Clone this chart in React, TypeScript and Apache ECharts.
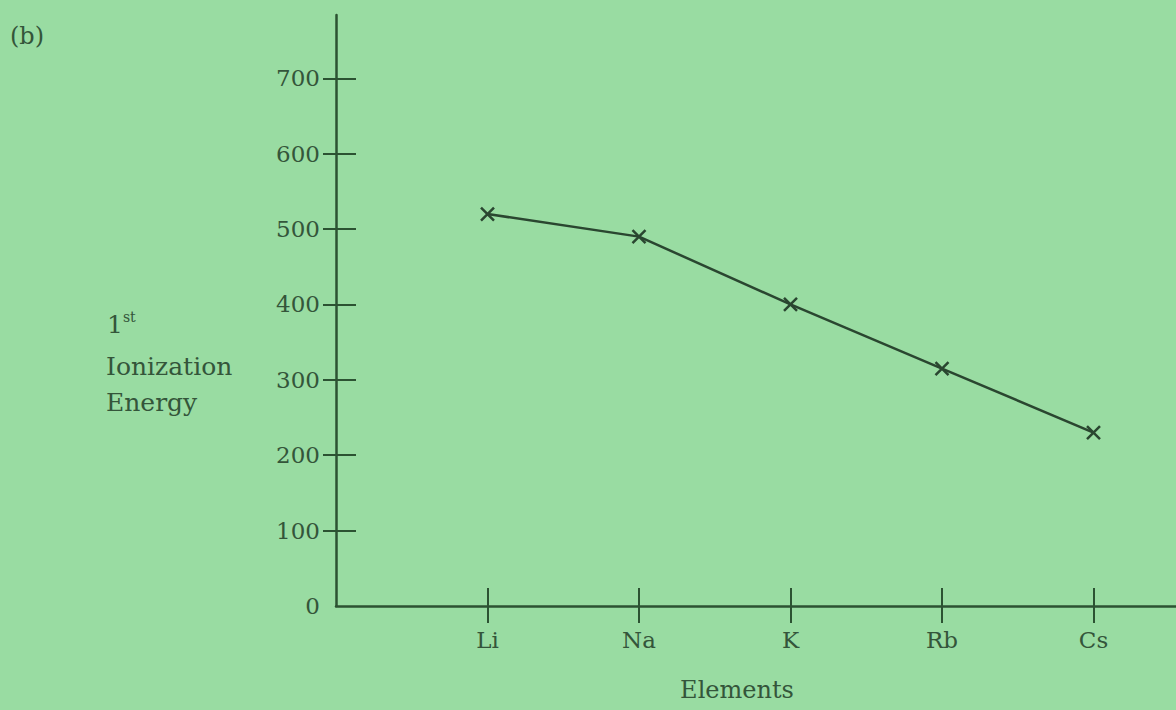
import React, { useEffect, useRef } from "react";
import * as echarts from "echarts";

const categories = ["Li", "Na", "K", "Rb", "Cs"];
const energies = [520, 490, 400, 315, 230];
const yTickValues = [100, 200, 300, 400, 500, 600, 700];
const yLabelValues = [0, 100, 200, 300, 400, 500, 600, 700];

const BG = "#99dca2";
const AXIS = "#2c5232";
const TEXT = "#34553a";
const FONT = "'DejaVu Serif', 'Liberation Serif', serif";

export default function App() {
  const ref = useRef<HTMLDivElement>(null);
  useEffect(() => {
    if (!ref.current) return;
    const chart = echarts.init(ref.current, undefined, { renderer: "svg" });
    const axisCats = [" ", ...categories, "  "];
    const showCat = (_i: number, v: string) => v.trim() !== "";
    const xBase = {
      type: "category",
      data: axisCats,
      boundaryGap: false,
      position: "bottom",
    };
    const yBase = { type: "value", min: 0, max: 784, position: "left" };
    chart.setOption({
      animation: false,
      backgroundColor: BG,
      grid: { left: 336, width: 909, top: 15, bottom: 104, containLabel: false, outerBoundsMode: "none" },
      xAxis: [
        {
          ...xBase,
          axisLine: { show: true, lineStyle: { color: AXIS, width: 2.5 } },
          axisTick: { show: true, interval: showCat, length: 17, lineStyle: { color: AXIS, width: 2 } },
          axisLabel: {
            interval: showCat,
            margin: 22,
            color: TEXT,
            fontFamily: FONT,
            fontSize: 23,
          },
          splitLine: { show: false },
        },
        {
          ...xBase,
          axisLine: { show: false },
          axisTick: { show: true, inside: true, interval: showCat, length: 18, lineStyle: { color: AXIS, width: 2 } },
          axisLabel: { show: false },
          splitLine: { show: false },
        },
      ],
      yAxis: [
        {
          ...yBase,
          axisLine: { show: true, lineStyle: { color: AXIS, width: 2.5 } },
          axisTick: { show: true, customValues: yTickValues, length: 13, lineStyle: { color: AXIS, width: 2 } },
          axisLabel: {
            customValues: yLabelValues,
            margin: 16,
            color: TEXT,
            fontFamily: FONT,
            fontSize: 23,
          },
          splitLine: { show: false },
        },
        {
          ...yBase,
          axisLine: { show: false },
          axisTick: { show: true, inside: true, customValues: yTickValues, length: 20, lineStyle: { color: AXIS, width: 2 } },
          axisLabel: { show: false },
          splitLine: { show: false },
        },
      ],
      series: [
        {
          type: "line",
          xAxisIndex: 0,
          yAxisIndex: 0,
          data: categories.map((c, i) => [c, energies[i]]),
          symbol: "path://M0,0L10,10M10,0L0,10",
          symbolSize: 13,
          itemStyle: { color: "#2a4630", borderColor: "#2a4630", borderWidth: 2.5 },
          lineStyle: { color: "#2a4630", width: 2.5 },
        },
      ],
      graphic: [
        {
          type: "text",
          left: 10,
          top: 24,
          style: { text: "(b)", font: `24px ${FONT}`, fill: TEXT },
        },
        {
          type: "text",
          x: 107,
          y: 310,
          style: {
            text: "{a|1}{s|st}",
            fill: TEXT,
            rich: {
              a: { fontSize: 25, fontFamily: FONT, fill: TEXT, lineHeight: 28 },
              s: { fontSize: 14, fontFamily: FONT, fill: TEXT, verticalAlign: "top", lineHeight: 20 },
            },
          },
        },
        {
          type: "text",
          x: 106,
          y: 354,
          style: { text: "Ionization", font: `25px ${FONT}`, fill: TEXT },
        },
        {
          type: "text",
          x: 106,
          y: 390,
          style: { text: "Energy", font: `25px ${FONT}`, fill: TEXT },
        },
        {
          type: "text",
          x: 737,
          y: 678,
          style: { text: "Elements", font: `24px ${FONT}`, fill: TEXT, textAlign: "center" },
        },
      ],
    });
    return () => chart.dispose();
  }, []);
  return (
    <div
      ref={ref}
      style={{ position: "fixed", left: 0, top: 0, width: 1176, height: 710, background: BG }}
    />
  );
}
